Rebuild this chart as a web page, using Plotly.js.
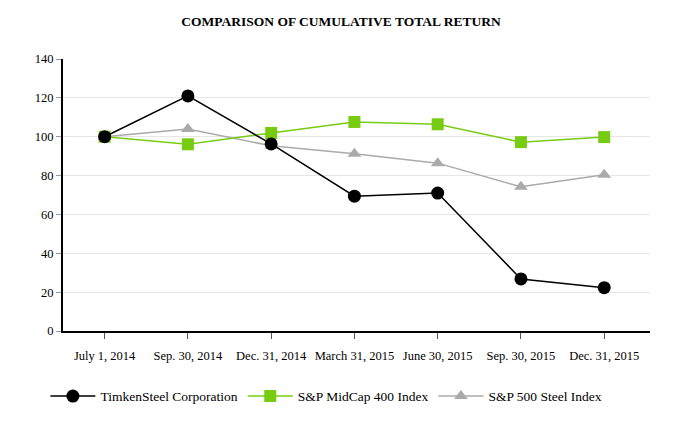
<!DOCTYPE html>
<html>
<head>
<meta charset="utf-8">
<script src="https://cdn.plot.ly/plotly-3.0.1.min.js"></script>
<style>body{margin:0;background:#fff}#chart{width:682px;height:432px}</style>
</head>
<body>
<div id="chart"></div>
<script>
var dates = ['July 1, 2014', 'Sep. 30, 2014', 'Dec. 31, 2014', 'March 31, 2015',
             'June 30, 2015', 'Sep. 30, 2015', 'Dec. 31, 2015'];
var timken = [100, 121, 96.3, 69.4, 71, 26.8, 22.3];
var midcap = [100, 96.1, 101.9, 107.6, 106.4, 97.2, 99.8];
var steel = [100, 104, 95.3, 91.2, 86.4, 74.2, 80.4];

var trace1 = {
  x: dates,
  y: timken,
  name: 'TimkenSteel Corporation',
  type: 'scatter',
  mode: 'lines+markers',
  line: {color: '#000000', width: 1.5},
  marker: {color: '#000000', symbol: 'circle', size: 13}
};

var trace2 = {
  x: dates,
  y: midcap,
  name: 'S&P MidCap 400 Index',
  type: 'scatter',
  mode: 'lines+markers',
  line: {color: '#77cc11', width: 1.5},
  marker: {color: '#77cc11', symbol: 'square', size: 12}
};

var trace3 = {
  x: dates,
  y: steel,
  name: 'S&P 500 Steel Index',
  type: 'scatter',
  mode: 'lines+markers',
  line: {color: '#aaaaaa', width: 1.5},
  marker: {color: '#aaaaaa', symbol: 'triangle-up', size: 12}
};

var data = [trace3, trace2, trace1];

var layout = {
  width: 682,
  height: 432,
  margin: {l: 63, r: 32, t: 59, b: 101},
  paper_bgcolor: '#ffffff',
  plot_bgcolor: '#ffffff',
  font: {family: '"Liberation Serif", "Times New Roman", serif', size: 12, color: '#000'},
  title: {
    text: '<b>COMPARISON OF CUMULATIVE TOTAL RETURN</b>',
    x: 0.5, xanchor: 'center', y: 0.95, yanchor: 'middle',
    font: {size: 13.5, color: '#000'}
  },
  showlegend: true,
  legend: {
    orientation: 'h',
    traceorder: 'reversed',
    x: -0.03, xanchor: 'left',
    y: -0.24, yanchor: 'middle',
    itemwidth: 45,
    font: {size: 13.5}
  },
  xaxis: {
    type: 'category',
    showline: true, linecolor: '#000', linewidth: 2,
    ticks: 'outside', ticklen: 6, tickcolor: '#555',
    ticklabelstandoff: 6,
    showgrid: false,
    tickfont: {size: 12.5},
    range: [-0.5, 6.55]
  },
  yaxis: {
    range: [0, 140],
    dtick: 20,
    showline: true, linecolor: '#000', linewidth: 2,
    ticks: 'outside', ticklen: 5, tickcolor: '#999',
    gridcolor: '#e6e6e6', gridwidth: 1,
    zeroline: false,
    tickfont: {size: 12.5}
  }
};

var config = {staticPlot: true};

Plotly.newPlot('chart', data, layout, config);
</script>
</body>
</html>
